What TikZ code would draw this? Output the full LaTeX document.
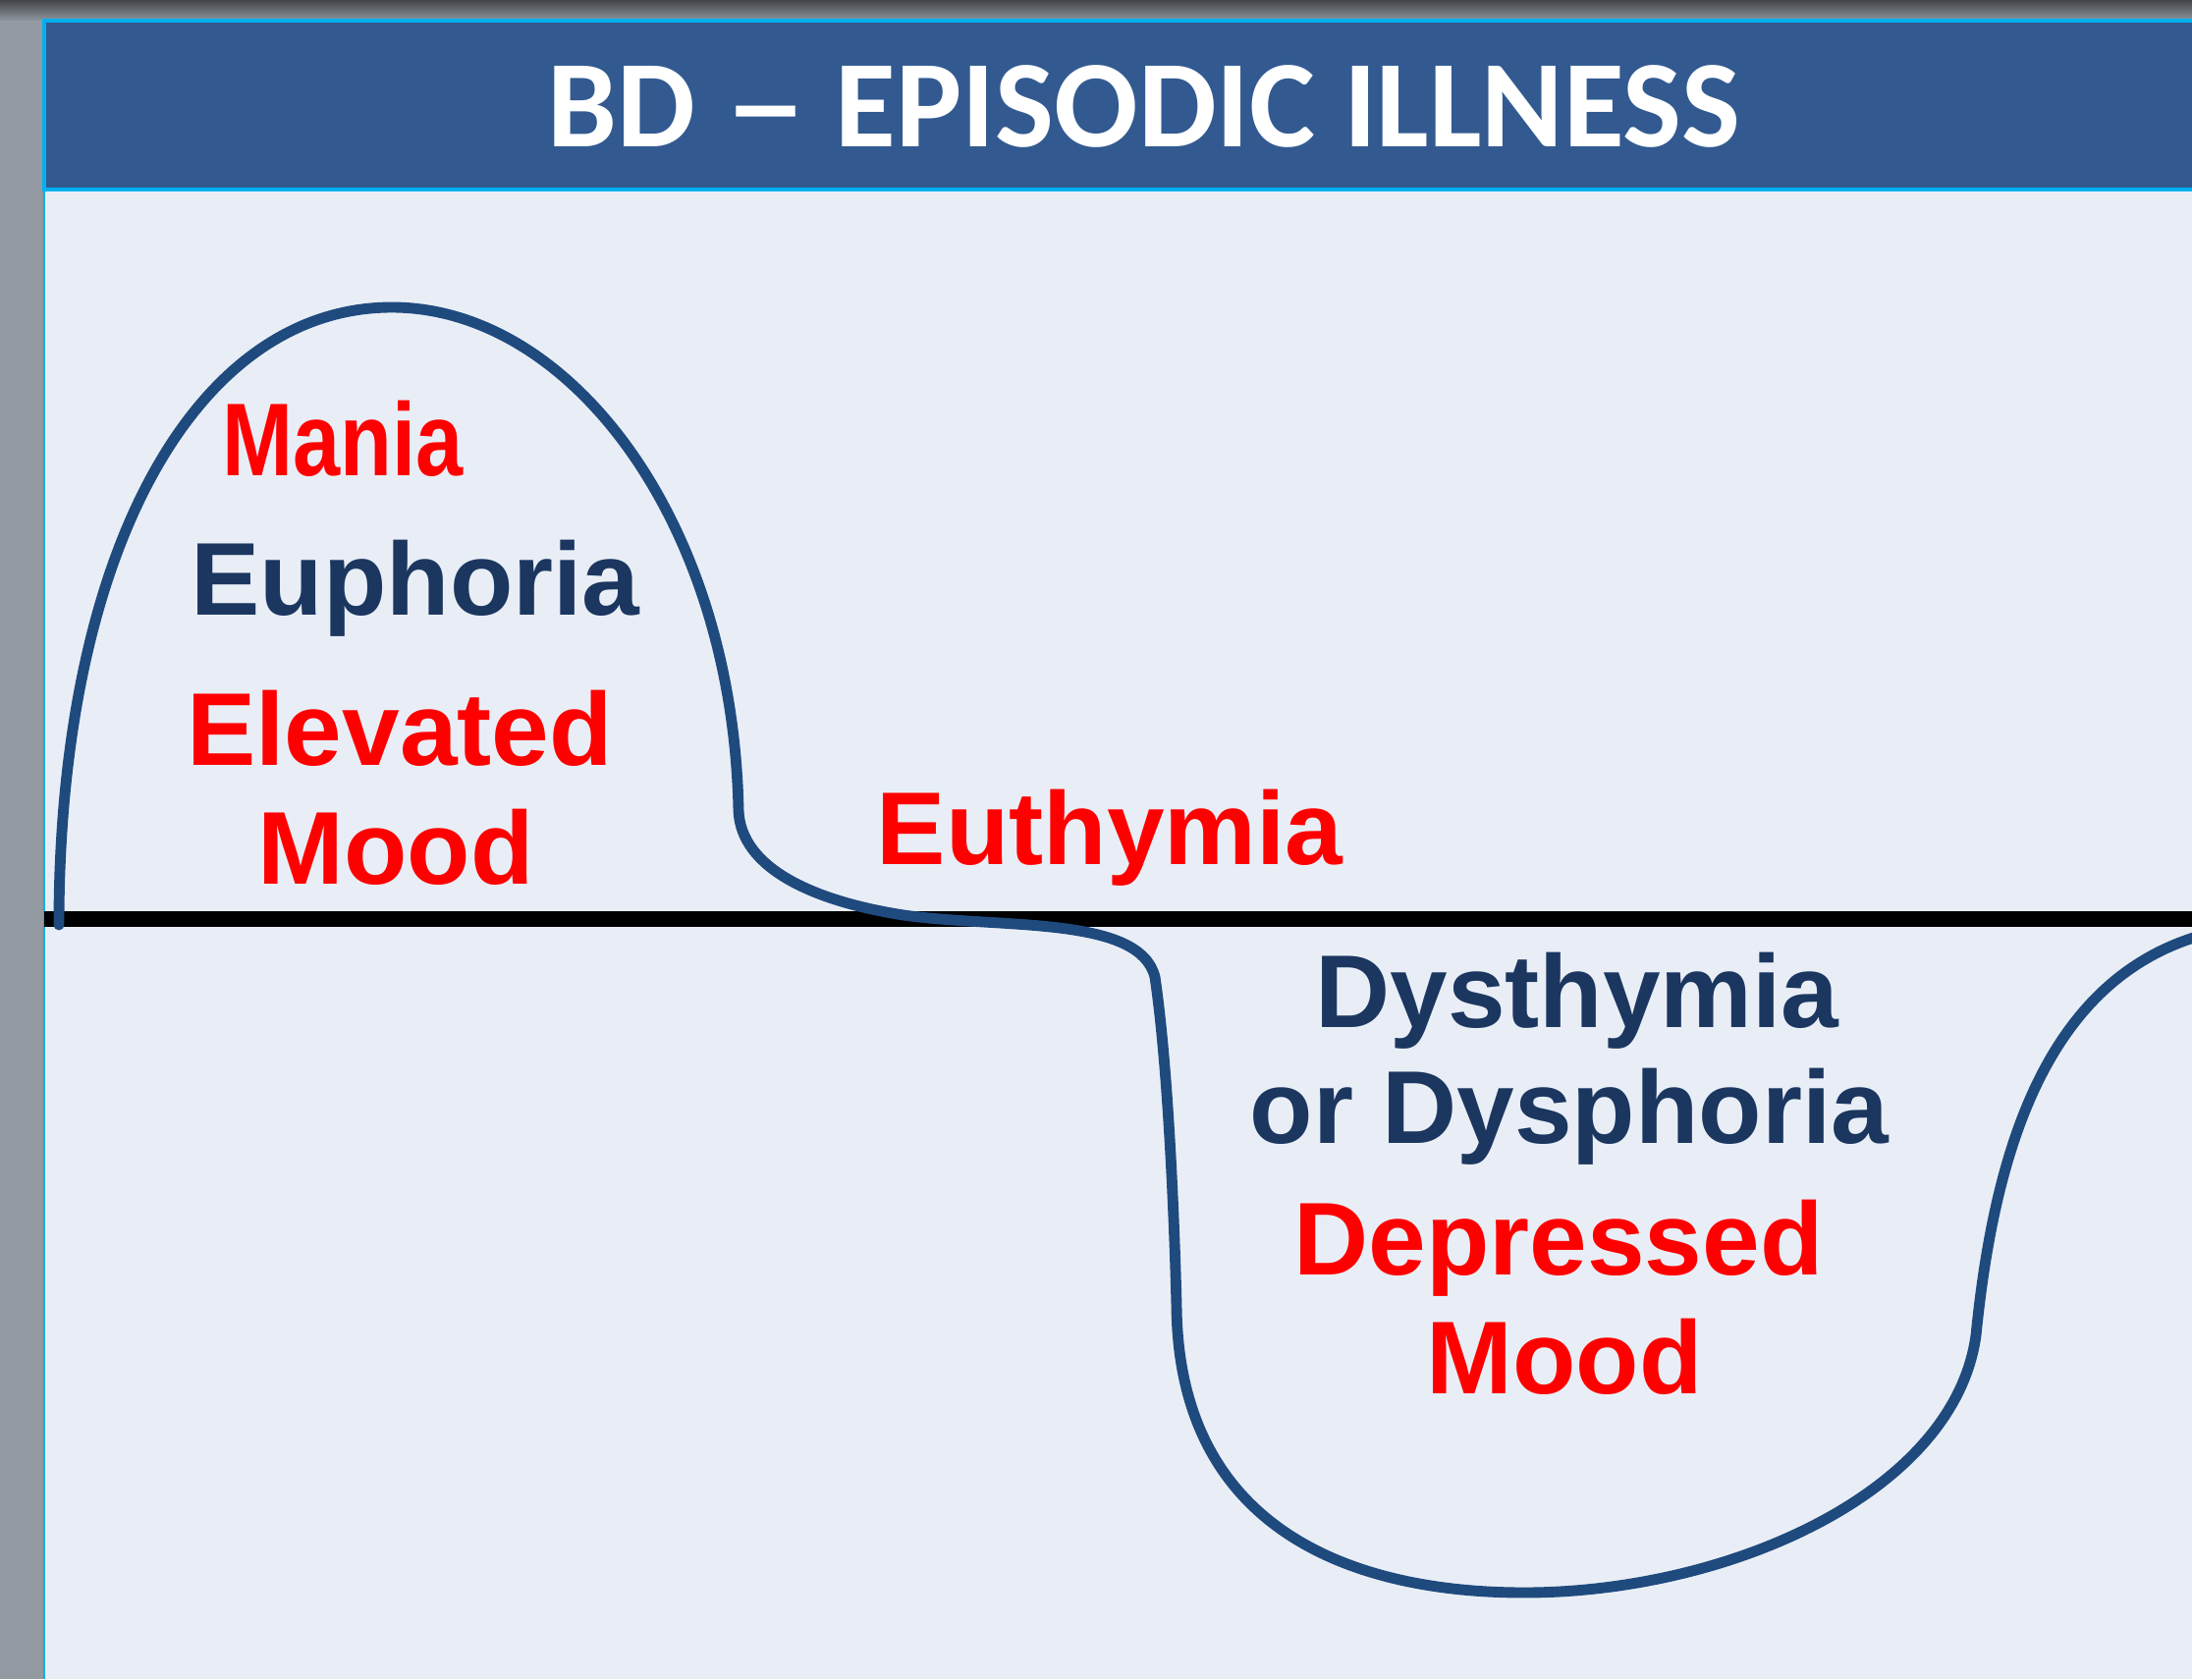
\documentclass[tikz,border=0pt]{standalone}
\usepackage{fontspec}
\usepackage{graphicx}
\setmainfont{Liberation Sans}
\newfontfamily\titlefont{Carlito}
\definecolor{bannerblue}{HTML}{325A91}
\definecolor{edgecyan}{HTML}{00B0F0}
\definecolor{slidebg}{HTML}{E9EEF6}
\definecolor{framegray}{HTML}{939AA2}
\definecolor{curveblue}{HTML}{1F4A7E}
\definecolor{labelnavy}{HTML}{1B3760}
\tikzset{
  moodlbl/.style={anchor=base, inner sep=0pt, font=\fontsize{30}{36}\selectfont\bfseries},
  redlbl/.style={moodlbl, text=red},
  navylbl/.style={moodlbl, text=labelnavy},
}
\begin{document}
\begin{tikzpicture}[x=0.1mm, y=-0.1mm]
\useasboundingbox (0,0) rectangle (2232,1710);
% slide frame
\fill[framegray] (0,0) rectangle (2232,1710);
\shade[top color=black!55!framegray, bottom color=framegray!95!black] (0,0) rectangle (2232,20);
\fill[slidebg] (44,194) rectangle (2232,1710);
\draw[edgecyan, line width=0.6pt] (45,194) -- (45,1710);
\draw[fill=bannerblue, draw=edgecyan, line width=1.2pt] (45,21) rectangle (2240,193);
\node[text=white, anchor=base, inner sep=0pt, font=\titlefont\fontsize{36}{40}\selectfont\bfseries] (title) at (1165,149) {BD \scalebox{1.35}[1]{\textendash} EPISODIC ILLNESS};
% baseline of euthymia
\draw[black, line width=4.5pt] (45,936) -- (2232,936);
% mood course
\draw[curveblue, line width=3.1pt, line cap=round]
  (60,942) .. controls (60,560) and (200,313) .. (399,313)
  .. controls (580,313) and (746,530) .. (752,825)
  .. controls (754,885) and (830,918) .. (920,932)
  .. controls (1020,946) and (1160,932) .. (1176,995)
  .. controls (1190,1090) and (1196,1250) .. (1198,1330)
  .. controls (1200,1560) and (1380,1622) .. (1552,1622)
  .. controls (1760,1622) and (1990,1520) .. (2012,1360)
  .. controls (2030,1180) and (2080,1000) .. (2240,953);
% labels
\node[redlbl] (mania) at (349,484) {\scalebox{0.82}[1]{Mania}};
\node[navylbl] (euphoria) at (423,626) {Euphoria};
\node[redlbl] (elevated) at (407,779) {Elevated};
\node[redlbl] (moodup) at (403,900) {Mood};
\node[redlbl] (euthymia) at (1130,880) {Euthymia};
\node[navylbl] (dysthymia) at (1606,1046) {Dysthymia};
\node[navylbl] (dysphoria) at (1598,1164) {or Dysphoria};
\node[redlbl] (depressed) at (1587,1298) {Depressed};
\node[redlbl] (mooddown) at (1593,1419) {Mood};
\end{tikzpicture}
\end{document}
